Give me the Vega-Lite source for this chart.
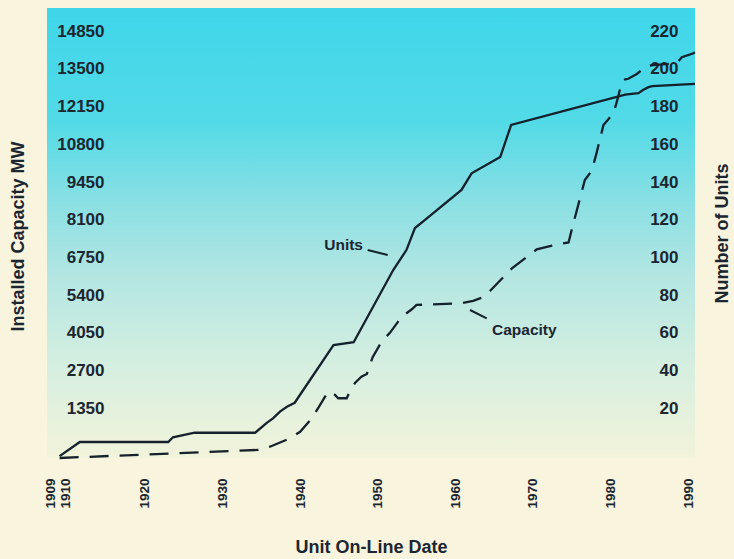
{
  "$schema": "https://vega.github.io/schema/vega-lite/v6.json",
  "width": 648,
  "height": 450,
  "autosize": {"type": "none"},
  "padding": {"left": 47, "top": 8, "right": 39, "bottom": 101},
  "background": "#f8f4de",
  "config": {
    "view": {
      "stroke": null,
      "fill": {
        "gradient": "linear", "x1": 0, "y1": 0, "x2": 0, "y2": 1,
        "stops": [
          {"offset": 0, "color": "#3fd6ea"},
          {"offset": 0.25, "color": "#52dae7"},
          {"offset": 0.45, "color": "#8fe0e3"},
          {"offset": 0.6, "color": "#b4e6e2"},
          {"offset": 0.8, "color": "#d6efe0"},
          {"offset": 1, "color": "#f2f3da"}
        ]
      }
    },
    "font": "Liberation Sans",
    "axis": {
      "grid": false, "ticks": false, "tickSize": 0, "domain": false,
      "labelColor": "#1b2631", "titleColor": "#1b2631",
      "labelFont": "Liberation Sans", "labelFontWeight": "bold",
      "titleFont": "Liberation Sans", "titleFontWeight": "bold"
    }
  },
  "datasets": {
    "capacity": [
      {"year": 1909, "mw": 0},
      {"year": 1934.6, "mw": 290},
      {"year": 1936.1, "mw": 405},
      {"year": 1938.4, "mw": 670},
      {"year": 1940.0, "mw": 940},
      {"year": 1941.5, "mw": 1420},
      {"year": 1942.3, "mw": 1780},
      {"year": 1943.6, "mw": 2370},
      {"year": 1944.5, "mw": 2260},
      {"year": 1944.9, "mw": 2140},
      {"year": 1946.0, "mw": 2140},
      {"year": 1946.3, "mw": 2320},
      {"year": 1947.1, "mw": 2700},
      {"year": 1947.9, "mw": 2910},
      {"year": 1948.6, "mw": 3010},
      {"year": 1948.8, "mw": 3180},
      {"year": 1949.35, "mw": 3610},
      {"year": 1950.5, "mw": 4165},
      {"year": 1951.6, "mw": 4490},
      {"year": 1953.1, "mw": 5060},
      {"year": 1954.4, "mw": 5325},
      {"year": 1955.0, "mw": 5480},
      {"year": 1960.8, "mw": 5540},
      {"year": 1962.3, "mw": 5630},
      {"year": 1963.6, "mw": 5755},
      {"year": 1964.5, "mw": 5990},
      {"year": 1967.3, "mw": 6790},
      {"year": 1970.5, "mw": 7470},
      {"year": 1972.2, "mw": 7590},
      {"year": 1974.6, "mw": 7720},
      {"year": 1975.0, "mw": 8165},
      {"year": 1976.7, "mw": 9955},
      {"year": 1977.6, "mw": 10290},
      {"year": 1978.2, "mw": 10910},
      {"year": 1979.1, "mw": 11925},
      {"year": 1980.4, "mw": 12345},
      {"year": 1981.0, "mw": 12940},
      {"year": 1981.45, "mw": 13475},
      {"year": 1981.9, "mw": 13560},
      {"year": 1982.3, "mw": 13580},
      {"year": 1983.4, "mw": 13750},
      {"year": 1984.7, "mw": 14040},
      {"year": 1985.5, "mw": 14070},
      {"year": 1988.55, "mw": 14135},
      {"year": 1989.2, "mw": 14350},
      {"year": 1990.7, "mw": 14490},
      {"year": 1990.9, "mw": 14540}
    ],
    "units": [
      {"year": 1909, "units": 1},
      {"year": 1911.6, "units": 8.5},
      {"year": 1923.0, "units": 8.5},
      {"year": 1923.6, "units": 11},
      {"year": 1926.4, "units": 13.4},
      {"year": 1934.2, "units": 13.4},
      {"year": 1935.7, "units": 18.6},
      {"year": 1936.5, "units": 21},
      {"year": 1937.4, "units": 24.6},
      {"year": 1938.3, "units": 27.2},
      {"year": 1939.3, "units": 29.3},
      {"year": 1944.3, "units": 59.9},
      {"year": 1946.9, "units": 61.4},
      {"year": 1952.0, "units": 99.7},
      {"year": 1953.7, "units": 110.3},
      {"year": 1954.8, "units": 122},
      {"year": 1956.1, "units": 126.3},
      {"year": 1960.8, "units": 142.2},
      {"year": 1962.1, "units": 151},
      {"year": 1965.8, "units": 159.7},
      {"year": 1967.2, "units": 176.7},
      {"year": 1981.9, "units": 192.8},
      {"year": 1983.6, "units": 193.5},
      {"year": 1984.2, "units": 195.2},
      {"year": 1984.9, "units": 196.7},
      {"year": 1985.4, "units": 197.3},
      {"year": 1990.9, "units": 198.4}
    ],
    "leaders": [
      {"year": 1948.71, "year2": 1951.29, "mw": 7448, "mw2": 7269},
      {"year": 1961.9, "year2": 1964.05, "mw": 5300, "mw2": 5003}
    ],
    "notes": [
      {"label": "Units", "year": 1948.1, "mw": 7645},
      {"label": "Capacity", "year": 1964.73, "mw": 4584}
    ]
  },
  "encoding": {
    "x": {
      "field": "year", "type": "quantitative",
      "scale": {"domain": [1907.37, 1990.9], "nice": false, "zero": false},
      "axis": {
        "values": [1909, 1910, 1920, 1930, 1940, 1950, 1960, 1970, 1980, 1990],
        "format": "d", "labelAngle": -90, "labelOverlap": false, "labelFlush": false, "labelBound": false,
        "labelPadding": 20, "labelFontSize": 13.5, "labelFont": "Liberation Sans",
        "labelOffset": {"condition": [{"test": "datum.value == 1909", "value": -9}, {"test": "datum.value == 1910", "value": -2}], "value": 0},
        "title": "Unit On-Line Date", "titleFontSize": 18, "titleY": 89, "titleBaseline": "middle"
      }
    }
  },
  "layer": [
    {
      "data": {"name": "capacity"},
      "mark": {"type": "line", "color": "#15212c", "strokeWidth": 2.3, "strokeDash": [19, 11]},
      "encoding": {
        "y": {
          "field": "mw", "type": "quantitative",
          "scale": {"domain": [0, 16114], "nice": false, "zero": false},
          "axis": {
            "orient": "left",
            "values": [1350, 2700, 4050, 5400, 6750, 8100, 9450, 10800, 12150, 13500, 14850],
            "format": "d", "labelAlign": "right", "labelBaseline": "middle", "labelPadding": -57, "labelOffset": -12,
            "labelFontSize": 17,
            "title": "Installed Capacity MW", "titleFontSize": 18, "titleX": -29, "titleY": 228,
            "titleAngle": 270, "titleBaseline": "middle", "titleAlign": "center"
          }
        }
      }
    },
    {
      "data": {"name": "units"},
      "mark": {"type": "line", "color": "#15212c", "strokeWidth": 2.3},
      "encoding": {
        "y": {
          "field": "units", "type": "quantitative",
          "scale": {"domain": [0, 238.7], "nice": false, "zero": false},
          "axis": {
            "orient": "right",
            "values": [20, 40, 60, 80, 100, 120, 140, 160, 180, 200, 220],
            "format": "d", "labelAlign": "right", "labelBaseline": "middle", "labelPadding": -17, "labelOffset": -12,
            "labelFontSize": 17,
            "title": "Number of Units", "titleFontSize": 18, "titleX": 27, "titleY": 225,
            "titleAngle": 270, "titleBaseline": "middle", "titleAlign": "center"
          }
        }
      }
    },
    {
      "data": {"name": "leaders"},
      "mark": {"type": "rule", "color": "#15212c", "strokeWidth": 2},
      "encoding": {
        "x2": {"field": "year2"},
        "y": {"field": "mw", "type": "quantitative", "scale": {"domain": [0, 16114], "nice": false, "zero": false}, "axis": null},
        "y2": {"field": "mw2"}
      }
    },
    {
      "data": {"name": "notes"},
      "transform": [{"filter": "datum.label == 'Units'"}],
      "mark": {"type": "text", "align": "right", "baseline": "middle", "font": "Liberation Sans", "fontWeight": "bold", "fontSize": 15.5, "color": "#1b2631"},
      "encoding": {
        "y": {"field": "mw", "type": "quantitative", "scale": {"domain": [0, 16114], "nice": false, "zero": false}, "axis": null},
        "text": {"field": "label"}
      }
    },
    {
      "data": {"name": "notes"},
      "transform": [{"filter": "datum.label == 'Capacity'"}],
      "mark": {"type": "text", "align": "left", "baseline": "middle", "font": "Liberation Sans", "fontWeight": "bold", "fontSize": 15.5, "color": "#1b2631"},
      "encoding": {
        "y": {"field": "mw", "type": "quantitative", "scale": {"domain": [0, 16114], "nice": false, "zero": false}, "axis": null},
        "text": {"field": "label"}
      }
    }
  ],
  "resolve": {"scale": {"y": "independent"}}
}
